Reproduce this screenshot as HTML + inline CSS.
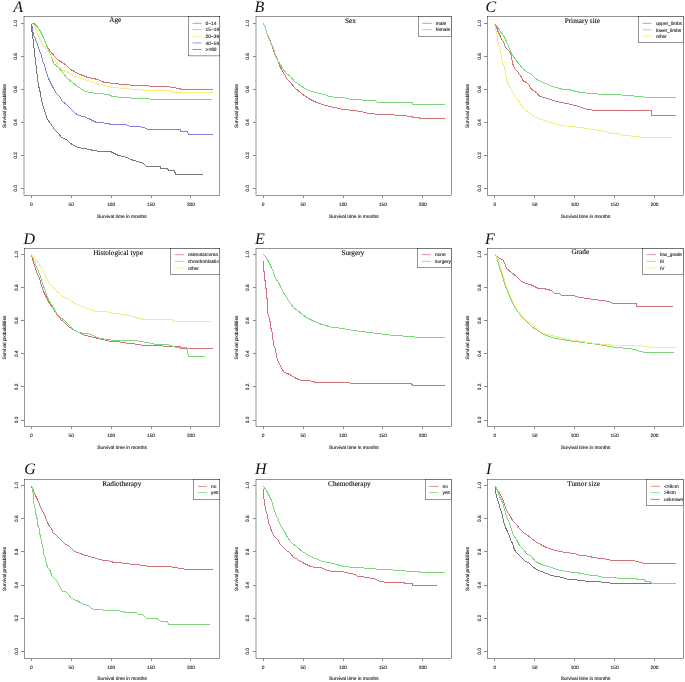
<!DOCTYPE html><html><head><meta charset="utf-8"><style>html,body{margin:0;padding:0;background:#fff;}svg{display:block;will-change:transform;text-rendering:geometricPrecision;}.s{font-family:"Liberation Sans", sans-serif;font-size:4.8px;fill:#111;stroke:#333;stroke-width:0.12px;}.t{font-family:"Liberation Serif", serif;font-size:7.25px;fill:#000;stroke:#222;stroke-width:0.1px;}.L{font-family:"Liberation Serif", serif;font-size:16px;font-style:italic;fill:#111;}</style></head><body>
<svg width="685" height="682" viewBox="0 0 685 682">
<rect width="685" height="682" fill="#fff"/>
<g><polyline points="31.5,23.5 34.5,23.5 38.5,28.5 41.5,33.5 44.5,40.5 46.5,45.5 50.5,51.5 54.5,56.5 58.5,60.5 62.5,62.5 66.5,65.5 70.5,69.5 74.5,71.5 79.5,74.5 83.5,75.5 87.5,77.5 93.5,78.5 97.5,79.5 100.5,80.5 101.5,81.5 105.5,82.5 114.5,83.5 123.5,84.5 136.5,85.5 143.5,85.5 154.5,86.5 169.5,86.5 170.5,87.5 180.5,88.5 180.5,89.5 212.5,89.5" fill="none" stroke="#d2737c" stroke-width="1" stroke-linejoin="round" shape-rendering="crispEdges"/><polyline points="31.5,23.5 35.5,25.5 39.5,29.5 43.5,37.5 46.5,45.5 49.5,52.5 52.5,59.5 53.5,63.5 58.5,67.5 62.5,72.5 67.5,78.5 72.5,82.5 77.5,86.5 77.5,86.5 83.5,90.5 83.5,90.5 89.5,92.5 91.5,92.5 96.5,93.5 98.5,93.5 100.5,93.5 107.5,94.5 108.5,94.5 112.5,96.5 123.5,97.5 138.5,98.5 149.5,98.5 150.5,99.5 211.5,99.5" fill="none" stroke="#7dd87d" stroke-width="1" stroke-linejoin="round" shape-rendering="crispEdges"/><polyline points="31.5,23.5 34.5,25.5 36.5,31.5 39.5,38.5 42.5,44.5 46.5,49.5 50.5,55.5 55.5,61.5 59.5,66.5 62.5,70.5 66.5,71.5 70.5,74.5 75.5,76.5 81.5,78.5 87.5,80.5 93.5,82.5 99.5,84.5 100.5,84.5 107.5,86.5 114.5,87.5 123.5,88.5 136.5,89.5 147.5,90.5 158.5,90.5 171.5,90.5 172.5,92.5 212.5,92.5" fill="none" stroke="#f2ee7c" stroke-width="1" stroke-linejoin="round" shape-rendering="crispEdges"/><polyline points="31.5,23.5 31.5,24.5 32.5,28.5 33.5,34.5 35.5,39.5 37.5,44.5 39.5,50.5 41.5,55.5 42.5,60.5 44.5,65.5 46.5,72.5 48.5,78.5 50.5,82.5 53.5,88.5 56.5,93.5 59.5,96.5 62.5,101.5 66.5,104.5 70.5,108.5 74.5,112.5 78.5,115.5 83.5,116.5 88.5,118.5 92.5,120.5 96.5,122.5 100.5,122.5 102.5,122.5 105.5,123.5 108.5,123.5 110.5,124.5 125.5,124.5 130.5,126.5 138.5,126.5 143.5,127.5 148.5,129.5 180.5,129.5 180.5,131.5 187.5,131.5 188.5,134.5 212.5,134.5" fill="none" stroke="#8282d4" stroke-width="1" stroke-linejoin="round" shape-rendering="crispEdges"/><polyline points="31.5,23.5 31.5,23.5 31.5,27.5 32.5,35.5 33.5,42.5 34.5,52.5 35.5,60.5 36.5,68.5 37.5,78.5 38.5,85.5 40.5,93.5 41.5,100.5 43.5,107.5 45.5,113.5 47.5,119.5 50.5,123.5 54.5,129.5 58.5,133.5 61.5,137.5 66.5,139.5 69.5,142.5 73.5,145.5 78.5,147.5 83.5,148.5 89.5,149.5 93.5,150.5 99.5,151.5 100.5,151.5 108.5,151.5 110.5,151.5 114.5,153.5 118.5,155.5 127.5,157.5 130.5,159.5 134.5,160.5 143.5,163.5 146.5,166.5 160.5,166.5 160.5,168.5 167.5,168.5 168.5,170.5 174.5,170.5 175.5,174.5 202.5,174.5" fill="none" stroke="#787878" stroke-width="1" stroke-linejoin="round" shape-rendering="crispEdges"/><rect x="24" y="16.5" width="195.8" height="179" fill="none" stroke="#000" stroke-width="0.42"/><line x1="20.8" y1="188.5" x2="24" y2="188.5" stroke="#8a8a8a" stroke-width="1" shape-rendering="crispEdges"/><text class="s" text-anchor="middle" transform="translate(15.3,188.47) rotate(-90)" dy="1.7">0.0</text><line x1="20.8" y1="155.5" x2="24" y2="155.5" stroke="#8a8a8a" stroke-width="1" shape-rendering="crispEdges"/><text class="s" text-anchor="middle" transform="translate(15.3,155.47) rotate(-90)" dy="1.7">0.2</text><line x1="20.8" y1="122.5" x2="24" y2="122.5" stroke="#8a8a8a" stroke-width="1" shape-rendering="crispEdges"/><text class="s" text-anchor="middle" transform="translate(15.3,122.46) rotate(-90)" dy="1.7">0.4</text><line x1="20.8" y1="89.5" x2="24" y2="89.5" stroke="#8a8a8a" stroke-width="1" shape-rendering="crispEdges"/><text class="s" text-anchor="middle" transform="translate(15.3,89.46) rotate(-90)" dy="1.7">0.6</text><line x1="20.8" y1="56.5" x2="24" y2="56.5" stroke="#8a8a8a" stroke-width="1" shape-rendering="crispEdges"/><text class="s" text-anchor="middle" transform="translate(15.3,56.45) rotate(-90)" dy="1.7">0.8</text><line x1="20.8" y1="23.5" x2="24" y2="23.5" stroke="#8a8a8a" stroke-width="1" shape-rendering="crispEdges"/><text class="s" text-anchor="middle" transform="translate(15.3,23.45) rotate(-90)" dy="1.7">1.0</text><line x1="31.5" y1="195.5" x2="31.5" y2="198.3" stroke="#8a8a8a" stroke-width="1" shape-rendering="crispEdges"/><text class="s" text-anchor="middle" x="31.35" y="206.3">0</text><line x1="71.5" y1="195.5" x2="71.5" y2="198.3" stroke="#8a8a8a" stroke-width="1" shape-rendering="crispEdges"/><text class="s" text-anchor="middle" x="71.25" y="206.3">50</text><line x1="111.5" y1="195.5" x2="111.5" y2="198.3" stroke="#8a8a8a" stroke-width="1" shape-rendering="crispEdges"/><text class="s" text-anchor="middle" x="111.15" y="206.3">100</text><line x1="151.5" y1="195.5" x2="151.5" y2="198.3" stroke="#8a8a8a" stroke-width="1" shape-rendering="crispEdges"/><text class="s" text-anchor="middle" x="151.05" y="206.3">150</text><line x1="190.5" y1="195.5" x2="190.5" y2="198.3" stroke="#8a8a8a" stroke-width="1" shape-rendering="crispEdges"/><text class="s" text-anchor="middle" x="190.95" y="206.3">200</text><text class="s" text-anchor="middle" x="121.9" y="217.5">Survival time in months</text><text class="s" text-anchor="middle" transform="translate(4.1,106) rotate(-90)" dy="1.7">Survival probabilities</text><text class="t" text-anchor="middle" x="115.2" y="22.2">Age</text><text class="L" x="13.3" y="11.8">A</text><rect x="188.7" y="16.5" width="31.1" height="39.4" fill="#fff" stroke="#000" stroke-width="0.42"/><line x1="192.5" y1="23.3" x2="201.5" y2="23.3" stroke="#d2737c" stroke-width="0.8"/><text class="s" x="205.6" y="25">0−14</text><line x1="192.5" y1="29.6" x2="201.5" y2="29.6" stroke="#7dd87d" stroke-width="0.8"/><text class="s" x="205.6" y="31.3">15−19</text><line x1="192.5" y1="36.4" x2="201.5" y2="36.4" stroke="#f2ee7c" stroke-width="0.8"/><text class="s" x="205.6" y="38.1">20−39</text><line x1="192.5" y1="42.9" x2="201.5" y2="42.9" stroke="#8282d4" stroke-width="0.8"/><text class="s" x="205.6" y="44.6">40−59</text><line x1="192.5" y1="49.5" x2="201.5" y2="49.5" stroke="#787878" stroke-width="0.8"/><text class="s" x="205.6" y="51.2">&gt;=60</text></g>
<g><polyline points="263.5,23.5 265.5,28.5 267.5,35.5 270.5,41.5 272.5,47.5 274.5,53.5 277.5,59.5 279.5,65.5 281.5,69.5 284.5,74.5 287.5,79.5 290.5,82.5 294.5,87.5 301.5,93.5 308.5,98.5 316.5,102.5 325.5,105.5 334.5,107.5 343.5,109.5 353.5,110.5 360.5,111.5 369.5,113.5 379.5,114.5 389.5,114.5 399.5,115.5 406.5,115.5 407.5,116.5 412.5,116.5 412.5,117.5 419.5,117.5 419.5,118.5 444.5,118.5" fill="none" stroke="#d2737c" stroke-width="1" stroke-linejoin="round" shape-rendering="crispEdges"/><polyline points="263.5,23.5 265.5,28.5 267.5,35.5 270.5,42.5 273.5,48.5 275.5,55.5 277.5,60.5 280.5,64.5 282.5,68.5 286.5,73.5 290.5,76.5 294.5,81.5 297.5,83.5 301.5,86.5 308.5,90.5 315.5,92.5 324.5,94.5 329.5,96.5 336.5,97.5 343.5,97.5 350.5,99.5 358.5,99.5 364.5,100.5 364.5,100.5 375.5,100.5 377.5,102.5 393.5,102.5 400.5,102.5 412.5,102.5 412.5,104.5 444.5,104.5" fill="none" stroke="#7dd87d" stroke-width="1" stroke-linejoin="round" shape-rendering="crispEdges"/><rect x="256" y="16.5" width="195.5" height="179" fill="none" stroke="#000" stroke-width="0.42"/><line x1="252.8" y1="188.5" x2="256" y2="188.5" stroke="#8a8a8a" stroke-width="1" shape-rendering="crispEdges"/><text class="s" text-anchor="middle" transform="translate(247.3,188.47) rotate(-90)" dy="1.7">0.0</text><line x1="252.8" y1="155.5" x2="256" y2="155.5" stroke="#8a8a8a" stroke-width="1" shape-rendering="crispEdges"/><text class="s" text-anchor="middle" transform="translate(247.3,155.47) rotate(-90)" dy="1.7">0.2</text><line x1="252.8" y1="122.5" x2="256" y2="122.5" stroke="#8a8a8a" stroke-width="1" shape-rendering="crispEdges"/><text class="s" text-anchor="middle" transform="translate(247.3,122.46) rotate(-90)" dy="1.7">0.4</text><line x1="252.8" y1="89.5" x2="256" y2="89.5" stroke="#8a8a8a" stroke-width="1" shape-rendering="crispEdges"/><text class="s" text-anchor="middle" transform="translate(247.3,89.46) rotate(-90)" dy="1.7">0.6</text><line x1="252.8" y1="56.5" x2="256" y2="56.5" stroke="#8a8a8a" stroke-width="1" shape-rendering="crispEdges"/><text class="s" text-anchor="middle" transform="translate(247.3,56.45) rotate(-90)" dy="1.7">0.8</text><line x1="252.8" y1="23.5" x2="256" y2="23.5" stroke="#8a8a8a" stroke-width="1" shape-rendering="crispEdges"/><text class="s" text-anchor="middle" transform="translate(247.3,23.45) rotate(-90)" dy="1.7">1.0</text><line x1="263.5" y1="195.5" x2="263.5" y2="198.3" stroke="#8a8a8a" stroke-width="1" shape-rendering="crispEdges"/><text class="s" text-anchor="middle" x="263.2" y="206.3">0</text><line x1="303.5" y1="195.5" x2="303.5" y2="198.3" stroke="#8a8a8a" stroke-width="1" shape-rendering="crispEdges"/><text class="s" text-anchor="middle" x="303.1" y="206.3">50</text><line x1="343.5" y1="195.5" x2="343.5" y2="198.3" stroke="#8a8a8a" stroke-width="1" shape-rendering="crispEdges"/><text class="s" text-anchor="middle" x="343" y="206.3">100</text><line x1="382.5" y1="195.5" x2="382.5" y2="198.3" stroke="#8a8a8a" stroke-width="1" shape-rendering="crispEdges"/><text class="s" text-anchor="middle" x="382.9" y="206.3">150</text><line x1="422.5" y1="195.5" x2="422.5" y2="198.3" stroke="#8a8a8a" stroke-width="1" shape-rendering="crispEdges"/><text class="s" text-anchor="middle" x="422.8" y="206.3">200</text><text class="s" text-anchor="middle" x="353.75" y="217.5">Survival time in months</text><text class="s" text-anchor="middle" transform="translate(236.1,106) rotate(-90)" dy="1.7">Survival probabilities</text><text class="t" text-anchor="middle" x="350.5" y="23">Sex</text><text class="L" x="254.5" y="11.8">B</text><rect x="418.4" y="16.5" width="33.1" height="19.8" fill="#fff" stroke="#000" stroke-width="0.42"/><line x1="422.3" y1="23.3" x2="431.7" y2="23.3" stroke="#d2737c" stroke-width="0.8"/><text class="s" x="435.8" y="25">male</text><line x1="422.3" y1="29.6" x2="431.7" y2="29.6" stroke="#7dd87d" stroke-width="0.8"/><text class="s" x="435.8" y="31.3">female</text></g>
<g><polyline points="494.5,23.5 496.5,26.5 497.5,30.5 499.5,34.5 500.5,36.5 501.5,39.5 503.5,41.5 504.5,44.5 505.5,47.5 507.5,49.5 509.5,51.5 510.5,53.5 511.5,56.5 512.5,62.5 513.5,66.5 515.5,69.5 517.5,71.5 519.5,74.5 522.5,78.5 522.5,80.5 526.5,82.5 528.5,84.5 530.5,87.5 531.5,89.5 533.5,90.5 537.5,93.5 538.5,95.5 540.5,96.5 547.5,98.5 556.5,101.5 566.5,103.5 575.5,105.5 587.5,109.5 596.5,110.5 605.5,110.5 651.5,110.5 651.5,115.5 675.5,115.5" fill="none" stroke="#d2737c" stroke-width="1" stroke-linejoin="round" shape-rendering="crispEdges"/><polyline points="494.5,23.5 497.5,26.5 499.5,30.5 503.5,35.5 506.5,41.5 508.5,46.5 510.5,51.5 512.5,55.5 515.5,59.5 519.5,64.5 522.5,68.5 526.5,71.5 531.5,74.5 534.5,77.5 538.5,80.5 545.5,83.5 552.5,86.5 559.5,88.5 563.5,89.5 568.5,89.5 580.5,92.5 603.5,94.5 605.5,94.5 612.5,94.5 631.5,95.5 636.5,96.5 643.5,96.5 644.5,97.5 675.5,97.5" fill="none" stroke="#7dd87d" stroke-width="1" stroke-linejoin="round" shape-rendering="crispEdges"/><polyline points="494.5,23.5 495.5,28.5 497.5,37.5 498.5,44.5 500.5,50.5 501.5,56.5 502.5,62.5 504.5,67.5 505.5,72.5 506.5,78.5 506.5,80.5 510.5,88.5 511.5,89.5 514.5,96.5 517.5,99.5 524.5,109.5 535.5,117.5 547.5,121.5 561.5,125.5 580.5,127.5 598.5,130.5 605.5,131.5 608.5,132.5 611.5,133.5 617.5,133.5 619.5,134.5 624.5,135.5 630.5,135.5 631.5,136.5 639.5,136.5 640.5,137.5 671.5,137.5" fill="none" stroke="#f2ee7c" stroke-width="1" stroke-linejoin="round" shape-rendering="crispEdges"/><rect x="487.5" y="16.5" width="196" height="179" fill="none" stroke="#000" stroke-width="0.42"/><line x1="484.3" y1="188.5" x2="487.5" y2="188.5" stroke="#8a8a8a" stroke-width="1" shape-rendering="crispEdges"/><text class="s" text-anchor="middle" transform="translate(478.8,188.47) rotate(-90)" dy="1.7">0.0</text><line x1="484.3" y1="155.5" x2="487.5" y2="155.5" stroke="#8a8a8a" stroke-width="1" shape-rendering="crispEdges"/><text class="s" text-anchor="middle" transform="translate(478.8,155.47) rotate(-90)" dy="1.7">0.2</text><line x1="484.3" y1="122.5" x2="487.5" y2="122.5" stroke="#8a8a8a" stroke-width="1" shape-rendering="crispEdges"/><text class="s" text-anchor="middle" transform="translate(478.8,122.46) rotate(-90)" dy="1.7">0.4</text><line x1="484.3" y1="89.5" x2="487.5" y2="89.5" stroke="#8a8a8a" stroke-width="1" shape-rendering="crispEdges"/><text class="s" text-anchor="middle" transform="translate(478.8,89.46) rotate(-90)" dy="1.7">0.6</text><line x1="484.3" y1="56.5" x2="487.5" y2="56.5" stroke="#8a8a8a" stroke-width="1" shape-rendering="crispEdges"/><text class="s" text-anchor="middle" transform="translate(478.8,56.45) rotate(-90)" dy="1.7">0.8</text><line x1="484.3" y1="23.5" x2="487.5" y2="23.5" stroke="#8a8a8a" stroke-width="1" shape-rendering="crispEdges"/><text class="s" text-anchor="middle" transform="translate(478.8,23.45) rotate(-90)" dy="1.7">1.0</text><line x1="494.5" y1="195.5" x2="494.5" y2="198.3" stroke="#8a8a8a" stroke-width="1" shape-rendering="crispEdges"/><text class="s" text-anchor="middle" x="494.9" y="206.3">0</text><line x1="534.5" y1="195.5" x2="534.5" y2="198.3" stroke="#8a8a8a" stroke-width="1" shape-rendering="crispEdges"/><text class="s" text-anchor="middle" x="534.8" y="206.3">50</text><line x1="574.5" y1="195.5" x2="574.5" y2="198.3" stroke="#8a8a8a" stroke-width="1" shape-rendering="crispEdges"/><text class="s" text-anchor="middle" x="574.7" y="206.3">100</text><line x1="614.5" y1="195.5" x2="614.5" y2="198.3" stroke="#8a8a8a" stroke-width="1" shape-rendering="crispEdges"/><text class="s" text-anchor="middle" x="614.6" y="206.3">150</text><line x1="654.5" y1="195.5" x2="654.5" y2="198.3" stroke="#8a8a8a" stroke-width="1" shape-rendering="crispEdges"/><text class="s" text-anchor="middle" x="654.5" y="206.3">200</text><text class="s" text-anchor="middle" x="585.5" y="217.5">Survival time in months</text><text class="s" text-anchor="middle" transform="translate(467.6,106) rotate(-90)" dy="1.7">Survival probabilities</text><text class="t" text-anchor="middle" x="582.3" y="23">Primary site</text><text class="L" x="485.5" y="11.8">C</text><rect x="638.7" y="16.5" width="44.8" height="25.9" fill="#fff" stroke="#000" stroke-width="0.42"/><line x1="642.6" y1="23.3" x2="651.5" y2="23.3" stroke="#d2737c" stroke-width="0.8"/><text class="s" x="655.9" y="25">upper_limbs</text><line x1="642.6" y1="29.8" x2="651.5" y2="29.8" stroke="#7dd87d" stroke-width="0.8"/><text class="s" x="655.9" y="31.5">lower_limbs</text><line x1="642.6" y1="36.3" x2="651.5" y2="36.3" stroke="#f2ee7c" stroke-width="0.8"/><text class="s" x="655.9" y="38">other</text></g>
<g><polyline points="31.5,254.5 32.5,259.5 34.5,265.5 36.5,271.5 39.5,278.5 41.5,285.5 43.5,291.5 46.5,297.5 49.5,303.5 52.5,307.5 55.5,312.5 59.5,317.5 61.5,320.5 62.5,320.5 65.5,323.5 68.5,326.5 76.5,331.5 85.5,335.5 94.5,337.5 102.5,339.5 107.5,340.5 110.5,341.5 119.5,341.5 120.5,342.5 130.5,343.5 131.5,343.5 143.5,345.5 155.5,345.5 170.5,346.5 180.5,346.5 180.5,348.5 212.5,348.5" fill="none" stroke="#d2737c" stroke-width="1" stroke-linejoin="round" shape-rendering="crispEdges"/><polyline points="31.5,254.5 33.5,259.5 35.5,264.5 38.5,271.5 40.5,276.5 42.5,283.5 45.5,291.5 47.5,297.5 49.5,301.5 53.5,307.5 56.5,313.5 60.5,317.5 64.5,320.5 64.5,320.5 68.5,324.5 73.5,329.5 78.5,332.5 85.5,333.5 91.5,334.5 94.5,336.5 100.5,338.5 106.5,339.5 114.5,340.5 115.5,340.5 130.5,340.5 136.5,340.5 139.5,341.5 148.5,342.5 155.5,344.5 167.5,344.5 176.5,347.5 186.5,347.5 188.5,356.5 204.5,356.5" fill="none" stroke="#7dd87d" stroke-width="1" stroke-linejoin="round" shape-rendering="crispEdges"/><polyline points="31.5,254.5 34.5,258.5 38.5,263.5 41.5,267.5 43.5,272.5 46.5,277.5 48.5,282.5 52.5,286.5 55.5,290.5 59.5,293.5 62.5,296.5 65.5,297.5 67.5,298.5 70.5,300.5 74.5,303.5 79.5,305.5 82.5,306.5 87.5,308.5 92.5,310.5 96.5,311.5 104.5,311.5 107.5,311.5 108.5,312.5 114.5,313.5 119.5,313.5 120.5,314.5 130.5,315.5 131.5,316.5 143.5,319.5 172.5,319.5 173.5,321.5 210.5,321.5" fill="none" stroke="#f2ee7c" stroke-width="1" stroke-linejoin="round" shape-rendering="crispEdges"/><rect x="24.5" y="248.5" width="195.3" height="178" fill="none" stroke="#000" stroke-width="0.42"/><line x1="21.3" y1="420.5" x2="24.5" y2="420.5" stroke="#8a8a8a" stroke-width="1" shape-rendering="crispEdges"/><text class="s" text-anchor="middle" transform="translate(15.8,420) rotate(-90)" dy="1.7">0.0</text><line x1="21.3" y1="386.5" x2="24.5" y2="386.5" stroke="#8a8a8a" stroke-width="1" shape-rendering="crispEdges"/><text class="s" text-anchor="middle" transform="translate(15.8,386.89) rotate(-90)" dy="1.7">0.2</text><line x1="21.3" y1="353.5" x2="24.5" y2="353.5" stroke="#8a8a8a" stroke-width="1" shape-rendering="crispEdges"/><text class="s" text-anchor="middle" transform="translate(15.8,353.79) rotate(-90)" dy="1.7">0.4</text><line x1="21.3" y1="320.5" x2="24.5" y2="320.5" stroke="#8a8a8a" stroke-width="1" shape-rendering="crispEdges"/><text class="s" text-anchor="middle" transform="translate(15.8,320.68) rotate(-90)" dy="1.7">0.6</text><line x1="21.3" y1="287.5" x2="24.5" y2="287.5" stroke="#8a8a8a" stroke-width="1" shape-rendering="crispEdges"/><text class="s" text-anchor="middle" transform="translate(15.8,287.58) rotate(-90)" dy="1.7">0.8</text><line x1="21.3" y1="254.5" x2="24.5" y2="254.5" stroke="#8a8a8a" stroke-width="1" shape-rendering="crispEdges"/><text class="s" text-anchor="middle" transform="translate(15.8,254.47) rotate(-90)" dy="1.7">1.0</text><line x1="31.5" y1="426.5" x2="31.5" y2="429.3" stroke="#8a8a8a" stroke-width="1" shape-rendering="crispEdges"/><text class="s" text-anchor="middle" x="31.35" y="437.3">0</text><line x1="71.5" y1="426.5" x2="71.5" y2="429.3" stroke="#8a8a8a" stroke-width="1" shape-rendering="crispEdges"/><text class="s" text-anchor="middle" x="71.25" y="437.3">50</text><line x1="111.5" y1="426.5" x2="111.5" y2="429.3" stroke="#8a8a8a" stroke-width="1" shape-rendering="crispEdges"/><text class="s" text-anchor="middle" x="111.15" y="437.3">100</text><line x1="151.5" y1="426.5" x2="151.5" y2="429.3" stroke="#8a8a8a" stroke-width="1" shape-rendering="crispEdges"/><text class="s" text-anchor="middle" x="151.05" y="437.3">150</text><line x1="190.5" y1="426.5" x2="190.5" y2="429.3" stroke="#8a8a8a" stroke-width="1" shape-rendering="crispEdges"/><text class="s" text-anchor="middle" x="190.95" y="437.3">200</text><text class="s" text-anchor="middle" x="122.15" y="448.5">Survival time in months</text><text class="s" text-anchor="middle" transform="translate(4.6,337.5) rotate(-90)" dy="1.7">Survival probabilities</text><text class="t" text-anchor="middle" x="118" y="254.8">Histological type</text><text class="L" x="23.4" y="243.8">D</text><rect x="170.7" y="248.5" width="49.1" height="25.9" fill="#fff" stroke="#000" stroke-width="0.42"/><line x1="175" y1="254.7" x2="183.8" y2="254.7" stroke="#d2737c" stroke-width="0.8"/><text class="s" x="187.9" y="256.4">osteosarcoma</text><line x1="175" y1="261.3" x2="183.8" y2="261.3" stroke="#7dd87d" stroke-width="0.8"/><text class="s" x="187.9" y="263">chondroblastic</text><line x1="175" y1="268.1" x2="183.8" y2="268.1" stroke="#f2ee7c" stroke-width="0.8"/><text class="s" x="187.9" y="269.8">other</text></g>
<g><polyline points="263.5,260.5 263.5,271.5 264.5,271.5 264.5,280.5 265.5,280.5 265.5,288.5 266.5,288.5 266.5,298.5 267.5,298.5 267.5,304.5 267.5,310.5 268.5,316.5 269.5,317.5 269.5,321.5 270.5,321.5 270.5,328.5 271.5,328.5 272.5,335.5 273.5,344.5 275.5,349.5 276.5,355.5 277.5,360.5 279.5,363.5 281.5,368.5 284.5,372.5 287.5,373.5 291.5,375.5 294.5,377.5 298.5,379.5 301.5,380.5 307.5,380.5 314.5,381.5 314.5,382.5 336.5,382.5 345.5,382.5 353.5,383.5 411.5,383.5 412.5,385.5 444.5,385.5" fill="none" stroke="#d2737c" stroke-width="1" stroke-linejoin="round" shape-rendering="crispEdges"/><polyline points="263.5,254.5 265.5,256.5 267.5,259.5 269.5,263.5 271.5,267.5 273.5,272.5 275.5,278.5 278.5,282.5 280.5,286.5 282.5,291.5 285.5,295.5 288.5,300.5 290.5,303.5 293.5,307.5 297.5,310.5 302.5,314.5 302.5,314.5 307.5,318.5 308.5,318.5 312.5,320.5 314.5,321.5 319.5,323.5 321.5,324.5 326.5,325.5 328.5,326.5 333.5,327.5 336.5,327.5 336.5,327.5 347.5,329.5 361.5,331.5 377.5,333.5 394.5,335.5 410.5,336.5 419.5,337.5 444.5,337.5" fill="none" stroke="#7dd87d" stroke-width="1" stroke-linejoin="round" shape-rendering="crispEdges"/><rect x="256" y="248.5" width="195.5" height="178" fill="none" stroke="#000" stroke-width="0.42"/><line x1="252.8" y1="420.5" x2="256" y2="420.5" stroke="#8a8a8a" stroke-width="1" shape-rendering="crispEdges"/><text class="s" text-anchor="middle" transform="translate(247.3,420) rotate(-90)" dy="1.7">0.0</text><line x1="252.8" y1="386.5" x2="256" y2="386.5" stroke="#8a8a8a" stroke-width="1" shape-rendering="crispEdges"/><text class="s" text-anchor="middle" transform="translate(247.3,386.89) rotate(-90)" dy="1.7">0.2</text><line x1="252.8" y1="353.5" x2="256" y2="353.5" stroke="#8a8a8a" stroke-width="1" shape-rendering="crispEdges"/><text class="s" text-anchor="middle" transform="translate(247.3,353.79) rotate(-90)" dy="1.7">0.4</text><line x1="252.8" y1="320.5" x2="256" y2="320.5" stroke="#8a8a8a" stroke-width="1" shape-rendering="crispEdges"/><text class="s" text-anchor="middle" transform="translate(247.3,320.68) rotate(-90)" dy="1.7">0.6</text><line x1="252.8" y1="287.5" x2="256" y2="287.5" stroke="#8a8a8a" stroke-width="1" shape-rendering="crispEdges"/><text class="s" text-anchor="middle" transform="translate(247.3,287.58) rotate(-90)" dy="1.7">0.8</text><line x1="252.8" y1="254.5" x2="256" y2="254.5" stroke="#8a8a8a" stroke-width="1" shape-rendering="crispEdges"/><text class="s" text-anchor="middle" transform="translate(247.3,254.47) rotate(-90)" dy="1.7">1.0</text><line x1="263.5" y1="426.5" x2="263.5" y2="429.3" stroke="#8a8a8a" stroke-width="1" shape-rendering="crispEdges"/><text class="s" text-anchor="middle" x="263.2" y="437.3">0</text><line x1="303.5" y1="426.5" x2="303.5" y2="429.3" stroke="#8a8a8a" stroke-width="1" shape-rendering="crispEdges"/><text class="s" text-anchor="middle" x="303.1" y="437.3">50</text><line x1="343.5" y1="426.5" x2="343.5" y2="429.3" stroke="#8a8a8a" stroke-width="1" shape-rendering="crispEdges"/><text class="s" text-anchor="middle" x="343" y="437.3">100</text><line x1="382.5" y1="426.5" x2="382.5" y2="429.3" stroke="#8a8a8a" stroke-width="1" shape-rendering="crispEdges"/><text class="s" text-anchor="middle" x="382.9" y="437.3">150</text><line x1="422.5" y1="426.5" x2="422.5" y2="429.3" stroke="#8a8a8a" stroke-width="1" shape-rendering="crispEdges"/><text class="s" text-anchor="middle" x="422.8" y="437.3">200</text><text class="s" text-anchor="middle" x="353.75" y="448.5">Survival time in months</text><text class="s" text-anchor="middle" transform="translate(236.1,337.5) rotate(-90)" dy="1.7">Survival probabilities</text><text class="t" text-anchor="middle" x="352.8" y="254.7">Surgery</text><text class="L" x="255" y="243.8">E</text><rect x="417.3" y="248.5" width="34.2" height="19.2" fill="#fff" stroke="#000" stroke-width="0.42"/><line x1="421.9" y1="254.6" x2="430.7" y2="254.6" stroke="#d2737c" stroke-width="0.8"/><text class="s" x="435" y="256.3">none</text><line x1="421.9" y1="261.4" x2="430.7" y2="261.4" stroke="#7dd87d" stroke-width="0.8"/><text class="s" x="435" y="263.1">surgery</text></g>
<g><polyline points="495.5,254.5 498.5,257.5 503.5,260.5 505.5,265.5 506.5,268.5 511.5,272.5 516.5,276.5 520.5,280.5 525.5,283.5 530.5,284.5 534.5,286.5 538.5,288.5 543.5,288.5 547.5,289.5 551.5,290.5 551.5,290.5 554.5,293.5 554.5,293.5 559.5,293.5 559.5,293.5 560.5,294.5 561.5,295.5 568.5,295.5 573.5,295.5 579.5,297.5 587.5,298.5 594.5,299.5 601.5,300.5 609.5,301.5 612.5,303.5 636.5,303.5 636.5,303.5 636.5,306.5 672.5,306.5" fill="none" stroke="#d2737c" stroke-width="1" stroke-linejoin="round" shape-rendering="crispEdges"/><polyline points="495.5,254.5 497.5,259.5 499.5,267.5 502.5,276.5 504.5,283.5 507.5,291.5 510.5,298.5 513.5,305.5 517.5,311.5 522.5,317.5 526.5,321.5 532.5,327.5 534.5,328.5 543.5,334.5 555.5,338.5 567.5,340.5 582.5,342.5 591.5,343.5 603.5,345.5 615.5,347.5 630.5,348.5 637.5,350.5 644.5,352.5 673.5,352.5" fill="none" stroke="#7dd87d" stroke-width="1" stroke-linejoin="round" shape-rendering="crispEdges"/><polyline points="495.5,254.5 498.5,259.5 500.5,267.5 503.5,276.5 505.5,283.5 508.5,291.5 511.5,298.5 514.5,305.5 518.5,311.5 522.5,316.5 527.5,321.5 533.5,325.5 534.5,327.5 543.5,333.5 555.5,336.5 567.5,339.5 582.5,341.5 587.5,342.5 603.5,344.5 620.5,345.5 639.5,345.5 651.5,347.5 676.5,347.5" fill="none" stroke="#f2ee7c" stroke-width="1" stroke-linejoin="round" shape-rendering="crispEdges"/><rect x="487.5" y="248.5" width="196" height="178" fill="none" stroke="#000" stroke-width="0.42"/><line x1="484.3" y1="420.5" x2="487.5" y2="420.5" stroke="#8a8a8a" stroke-width="1" shape-rendering="crispEdges"/><text class="s" text-anchor="middle" transform="translate(478.8,420) rotate(-90)" dy="1.7">0.0</text><line x1="484.3" y1="386.5" x2="487.5" y2="386.5" stroke="#8a8a8a" stroke-width="1" shape-rendering="crispEdges"/><text class="s" text-anchor="middle" transform="translate(478.8,386.89) rotate(-90)" dy="1.7">0.2</text><line x1="484.3" y1="353.5" x2="487.5" y2="353.5" stroke="#8a8a8a" stroke-width="1" shape-rendering="crispEdges"/><text class="s" text-anchor="middle" transform="translate(478.8,353.79) rotate(-90)" dy="1.7">0.4</text><line x1="484.3" y1="320.5" x2="487.5" y2="320.5" stroke="#8a8a8a" stroke-width="1" shape-rendering="crispEdges"/><text class="s" text-anchor="middle" transform="translate(478.8,320.68) rotate(-90)" dy="1.7">0.6</text><line x1="484.3" y1="287.5" x2="487.5" y2="287.5" stroke="#8a8a8a" stroke-width="1" shape-rendering="crispEdges"/><text class="s" text-anchor="middle" transform="translate(478.8,287.58) rotate(-90)" dy="1.7">0.8</text><line x1="484.3" y1="254.5" x2="487.5" y2="254.5" stroke="#8a8a8a" stroke-width="1" shape-rendering="crispEdges"/><text class="s" text-anchor="middle" transform="translate(478.8,254.47) rotate(-90)" dy="1.7">1.0</text><line x1="494.5" y1="426.5" x2="494.5" y2="429.3" stroke="#8a8a8a" stroke-width="1" shape-rendering="crispEdges"/><text class="s" text-anchor="middle" x="494.9" y="437.3">0</text><line x1="534.5" y1="426.5" x2="534.5" y2="429.3" stroke="#8a8a8a" stroke-width="1" shape-rendering="crispEdges"/><text class="s" text-anchor="middle" x="534.8" y="437.3">50</text><line x1="574.5" y1="426.5" x2="574.5" y2="429.3" stroke="#8a8a8a" stroke-width="1" shape-rendering="crispEdges"/><text class="s" text-anchor="middle" x="574.7" y="437.3">100</text><line x1="614.5" y1="426.5" x2="614.5" y2="429.3" stroke="#8a8a8a" stroke-width="1" shape-rendering="crispEdges"/><text class="s" text-anchor="middle" x="614.6" y="437.3">150</text><line x1="654.5" y1="426.5" x2="654.5" y2="429.3" stroke="#8a8a8a" stroke-width="1" shape-rendering="crispEdges"/><text class="s" text-anchor="middle" x="654.5" y="437.3">200</text><text class="s" text-anchor="middle" x="585.5" y="448.5">Survival time in months</text><text class="s" text-anchor="middle" transform="translate(467.6,337.5) rotate(-90)" dy="1.7">Survival probabilities</text><text class="t" text-anchor="middle" x="580.3" y="254.3">Grade</text><text class="L" x="485" y="243.8">F</text><rect x="642.5" y="248.5" width="41" height="25.8" fill="#fff" stroke="#000" stroke-width="0.42"/><line x1="646.8" y1="254.6" x2="655.8" y2="254.6" stroke="#d2737c" stroke-width="0.8"/><text class="s" x="659.9" y="256.3">low_grade</text><line x1="646.8" y1="261.3" x2="655.8" y2="261.3" stroke="#7dd87d" stroke-width="0.8"/><text class="s" x="659.9" y="263">III</text><line x1="646.8" y1="267.9" x2="655.8" y2="267.9" stroke="#f2ee7c" stroke-width="0.8"/><text class="s" x="659.9" y="269.6">IV</text></g>
<g><polyline points="31.5,486.5 33.5,490.5 35.5,495.5 37.5,499.5 39.5,504.5 41.5,509.5 43.5,512.5 45.5,517.5 47.5,522.5 49.5,526.5 50.5,527.5 52.5,530.5 52.5,532.5 55.5,534.5 59.5,538.5 62.5,541.5 65.5,544.5 68.5,545.5 71.5,548.5 73.5,550.5 73.5,550.5 76.5,552.5 77.5,552.5 80.5,553.5 82.5,554.5 89.5,556.5 96.5,558.5 103.5,560.5 107.5,560.5 110.5,561.5 114.5,562.5 120.5,562.5 123.5,563.5 136.5,564.5 150.5,566.5 169.5,566.5 174.5,567.5 180.5,568.5 187.5,569.5 212.5,569.5" fill="none" stroke="#d2737c" stroke-width="1" stroke-linejoin="round" shape-rendering="crispEdges"/><polyline points="32.5,486.5 32.5,490.5 33.5,495.5 33.5,500.5 34.5,506.5 35.5,509.5 35.5,512.5 36.5,516.5 37.5,520.5 37.5,523.5 38.5,527.5 39.5,528.5 39.5,532.5 39.5,532.5 40.5,536.5 41.5,541.5 42.5,546.5 43.5,549.5 43.5,554.5 45.5,557.5 45.5,560.5 46.5,563.5 47.5,567.5 49.5,569.5 50.5,571.5 50.5,571.5 51.5,575.5 52.5,576.5 57.5,581.5 59.5,586.5 62.5,591.5 65.5,591.5 68.5,594.5 71.5,598.5 76.5,600.5 80.5,602.5 83.5,604.5 88.5,605.5 91.5,608.5 94.5,609.5 100.5,609.5 100.5,609.5 105.5,610.5 105.5,610.5 114.5,610.5 115.5,610.5 123.5,611.5 125.5,612.5 136.5,612.5 138.5,614.5 142.5,614.5 144.5,616.5 146.5,618.5 156.5,618.5 158.5,619.5 160.5,621.5 167.5,621.5 168.5,624.5 209.5,624.5" fill="none" stroke="#7dd87d" stroke-width="1" stroke-linejoin="round" shape-rendering="crispEdges"/><rect x="24.5" y="479.5" width="195.3" height="178.8" fill="none" stroke="#000" stroke-width="0.42"/><line x1="21.3" y1="651.5" x2="24.5" y2="651.5" stroke="#8a8a8a" stroke-width="1" shape-rendering="crispEdges"/><text class="s" text-anchor="middle" transform="translate(15.8,651.5) rotate(-90)" dy="1.7">0.0</text><line x1="21.3" y1="618.5" x2="24.5" y2="618.5" stroke="#8a8a8a" stroke-width="1" shape-rendering="crispEdges"/><text class="s" text-anchor="middle" transform="translate(15.8,618.29) rotate(-90)" dy="1.7">0.2</text><line x1="21.3" y1="585.5" x2="24.5" y2="585.5" stroke="#8a8a8a" stroke-width="1" shape-rendering="crispEdges"/><text class="s" text-anchor="middle" transform="translate(15.8,585.09) rotate(-90)" dy="1.7">0.4</text><line x1="21.3" y1="551.5" x2="24.5" y2="551.5" stroke="#8a8a8a" stroke-width="1" shape-rendering="crispEdges"/><text class="s" text-anchor="middle" transform="translate(15.8,551.88) rotate(-90)" dy="1.7">0.6</text><line x1="21.3" y1="518.5" x2="24.5" y2="518.5" stroke="#8a8a8a" stroke-width="1" shape-rendering="crispEdges"/><text class="s" text-anchor="middle" transform="translate(15.8,518.68) rotate(-90)" dy="1.7">0.8</text><line x1="21.3" y1="485.5" x2="24.5" y2="485.5" stroke="#8a8a8a" stroke-width="1" shape-rendering="crispEdges"/><text class="s" text-anchor="middle" transform="translate(15.8,485.47) rotate(-90)" dy="1.7">1.0</text><line x1="31.5" y1="658.3" x2="31.5" y2="661.1" stroke="#8a8a8a" stroke-width="1" shape-rendering="crispEdges"/><text class="s" text-anchor="middle" x="31.35" y="669.1">0</text><line x1="71.5" y1="658.3" x2="71.5" y2="661.1" stroke="#8a8a8a" stroke-width="1" shape-rendering="crispEdges"/><text class="s" text-anchor="middle" x="71.25" y="669.1">50</text><line x1="111.5" y1="658.3" x2="111.5" y2="661.1" stroke="#8a8a8a" stroke-width="1" shape-rendering="crispEdges"/><text class="s" text-anchor="middle" x="111.15" y="669.1">100</text><line x1="151.5" y1="658.3" x2="151.5" y2="661.1" stroke="#8a8a8a" stroke-width="1" shape-rendering="crispEdges"/><text class="s" text-anchor="middle" x="151.05" y="669.1">150</text><line x1="190.5" y1="658.3" x2="190.5" y2="661.1" stroke="#8a8a8a" stroke-width="1" shape-rendering="crispEdges"/><text class="s" text-anchor="middle" x="190.95" y="669.1">200</text><text class="s" text-anchor="middle" x="122.15" y="680.3">Survival time in months</text><text class="s" text-anchor="middle" transform="translate(4.6,568.9) rotate(-90)" dy="1.7">Survival probabilities</text><text class="t" text-anchor="middle" x="121.8" y="485.8">Radiotherapy</text><text class="L" x="24.3" y="473.8">G</text><rect x="193.5" y="479.5" width="26.3" height="19.8" fill="#fff" stroke="#000" stroke-width="0.42"/><line x1="198" y1="486.4" x2="206.7" y2="486.4" stroke="#d2737c" stroke-width="0.8"/><text class="s" x="211" y="488.1">no</text><line x1="198" y1="492.5" x2="206.7" y2="492.5" stroke="#7dd87d" stroke-width="0.8"/><text class="s" x="211" y="494.2">yes</text></g>
<g><polyline points="263.5,488.5 263.5,494.5 264.5,502.5 265.5,509.5 267.5,515.5 268.5,522.5 270.5,527.5 271.5,531.5 274.5,536.5 277.5,539.5 280.5,544.5 280.5,544.5 283.5,547.5 284.5,548.5 287.5,551.5 288.5,551.5 291.5,554.5 292.5,556.5 297.5,559.5 302.5,562.5 306.5,564.5 310.5,566.5 315.5,567.5 321.5,567.5 326.5,570.5 333.5,571.5 342.5,571.5 345.5,572.5 350.5,573.5 355.5,574.5 357.5,576.5 360.5,576.5 373.5,578.5 380.5,581.5 387.5,582.5 403.5,582.5 405.5,583.5 412.5,583.5 412.5,585.5 436.5,585.5" fill="none" stroke="#d2737c" stroke-width="1" stroke-linejoin="round" shape-rendering="crispEdges"/><polyline points="263.5,486.5 266.5,490.5 268.5,494.5 271.5,500.5 273.5,507.5 275.5,513.5 278.5,520.5 280.5,525.5 284.5,531.5 287.5,537.5 290.5,541.5 292.5,543.5 296.5,546.5 297.5,547.5 302.5,551.5 308.5,555.5 315.5,558.5 322.5,561.5 329.5,562.5 336.5,564.5 344.5,566.5 352.5,567.5 360.5,567.5 366.5,568.5 384.5,569.5 401.5,570.5 410.5,571.5 419.5,571.5 419.5,572.5 444.5,572.5" fill="none" stroke="#7dd87d" stroke-width="1" stroke-linejoin="round" shape-rendering="crispEdges"/><rect x="256" y="479.5" width="195.5" height="178.8" fill="none" stroke="#000" stroke-width="0.42"/><line x1="252.8" y1="651.5" x2="256" y2="651.5" stroke="#8a8a8a" stroke-width="1" shape-rendering="crispEdges"/><text class="s" text-anchor="middle" transform="translate(247.3,651.5) rotate(-90)" dy="1.7">0.0</text><line x1="252.8" y1="618.5" x2="256" y2="618.5" stroke="#8a8a8a" stroke-width="1" shape-rendering="crispEdges"/><text class="s" text-anchor="middle" transform="translate(247.3,618.29) rotate(-90)" dy="1.7">0.2</text><line x1="252.8" y1="585.5" x2="256" y2="585.5" stroke="#8a8a8a" stroke-width="1" shape-rendering="crispEdges"/><text class="s" text-anchor="middle" transform="translate(247.3,585.09) rotate(-90)" dy="1.7">0.4</text><line x1="252.8" y1="551.5" x2="256" y2="551.5" stroke="#8a8a8a" stroke-width="1" shape-rendering="crispEdges"/><text class="s" text-anchor="middle" transform="translate(247.3,551.88) rotate(-90)" dy="1.7">0.6</text><line x1="252.8" y1="518.5" x2="256" y2="518.5" stroke="#8a8a8a" stroke-width="1" shape-rendering="crispEdges"/><text class="s" text-anchor="middle" transform="translate(247.3,518.68) rotate(-90)" dy="1.7">0.8</text><line x1="252.8" y1="485.5" x2="256" y2="485.5" stroke="#8a8a8a" stroke-width="1" shape-rendering="crispEdges"/><text class="s" text-anchor="middle" transform="translate(247.3,485.47) rotate(-90)" dy="1.7">1.0</text><line x1="263.5" y1="658.3" x2="263.5" y2="661.1" stroke="#8a8a8a" stroke-width="1" shape-rendering="crispEdges"/><text class="s" text-anchor="middle" x="263.2" y="669.1">0</text><line x1="303.5" y1="658.3" x2="303.5" y2="661.1" stroke="#8a8a8a" stroke-width="1" shape-rendering="crispEdges"/><text class="s" text-anchor="middle" x="303.1" y="669.1">50</text><line x1="343.5" y1="658.3" x2="343.5" y2="661.1" stroke="#8a8a8a" stroke-width="1" shape-rendering="crispEdges"/><text class="s" text-anchor="middle" x="343" y="669.1">100</text><line x1="382.5" y1="658.3" x2="382.5" y2="661.1" stroke="#8a8a8a" stroke-width="1" shape-rendering="crispEdges"/><text class="s" text-anchor="middle" x="382.9" y="669.1">150</text><line x1="422.5" y1="658.3" x2="422.5" y2="661.1" stroke="#8a8a8a" stroke-width="1" shape-rendering="crispEdges"/><text class="s" text-anchor="middle" x="422.8" y="669.1">200</text><text class="s" text-anchor="middle" x="353.75" y="680.3">Survival time in months</text><text class="s" text-anchor="middle" transform="translate(236.1,568.9) rotate(-90)" dy="1.7">Survival probabilities</text><text class="t" text-anchor="middle" x="349.4" y="486.1">Chemotherapy</text><text class="L" x="255" y="473.8">H</text><rect x="425.5" y="479.5" width="26" height="19.8" fill="#fff" stroke="#000" stroke-width="0.42"/><line x1="429.3" y1="486.4" x2="438.3" y2="486.4" stroke="#d2737c" stroke-width="0.8"/><text class="s" x="442.5" y="488.1">no</text><line x1="429.3" y1="492.5" x2="438.3" y2="492.5" stroke="#7dd87d" stroke-width="0.8"/><text class="s" x="442.5" y="494.2">yes</text></g>
<g><polyline points="495.5,486.5 498.5,491.5 502.5,498.5 504.5,504.5 506.5,510.5 510.5,516.5 512.5,520.5 516.5,524.5 519.5,528.5 523.5,532.5 526.5,534.5 535.5,541.5 540.5,544.5 546.5,547.5 552.5,549.5 559.5,551.5 566.5,552.5 573.5,553.5 574.5,553.5 580.5,555.5 583.5,555.5 590.5,556.5 592.5,557.5 601.5,558.5 607.5,559.5 612.5,560.5 621.5,560.5 632.5,560.5 637.5,561.5 644.5,563.5 675.5,563.5" fill="none" stroke="#d2737c" stroke-width="1" stroke-linejoin="round" shape-rendering="crispEdges"/><polyline points="495.5,486.5 497.5,490.5 499.5,496.5 502.5,502.5 504.5,509.5 506.5,516.5 509.5,523.5 511.5,529.5 513.5,535.5 516.5,539.5 519.5,545.5 521.5,547.5 523.5,549.5 526.5,553.5 531.5,556.5 535.5,561.5 541.5,564.5 548.5,566.5 554.5,568.5 560.5,570.5 566.5,571.5 573.5,572.5 576.5,572.5 580.5,573.5 587.5,574.5 590.5,575.5 596.5,575.5 603.5,577.5 612.5,577.5 621.5,578.5 636.5,578.5 636.5,579.5 644.5,579.5 645.5,581.5 650.5,581.5 651.5,583.5 675.5,583.5" fill="none" stroke="#7dd87d" stroke-width="1" stroke-linejoin="round" shape-rendering="crispEdges"/><polyline points="495.5,486.5 495.5,490.5 496.5,496.5 498.5,502.5 500.5,509.5 502.5,515.5 503.5,521.5 505.5,527.5 507.5,531.5 509.5,536.5 511.5,542.5 512.5,542.5 513.5,547.5 515.5,551.5 520.5,556.5 525.5,561.5 528.5,562.5 532.5,566.5 536.5,569.5 541.5,571.5 546.5,573.5 551.5,575.5 556.5,576.5 562.5,577.5 568.5,579.5 575.5,579.5 578.5,580.5 582.5,580.5 587.5,581.5 590.5,581.5 596.5,581.5 605.5,582.5 614.5,583.5 623.5,583.5 641.5,583.5 650.5,583.5" fill="none" stroke="#787878" stroke-width="1" stroke-linejoin="round" shape-rendering="crispEdges"/><rect x="487.5" y="479.5" width="196" height="178.8" fill="none" stroke="#000" stroke-width="0.42"/><line x1="484.3" y1="651.5" x2="487.5" y2="651.5" stroke="#8a8a8a" stroke-width="1" shape-rendering="crispEdges"/><text class="s" text-anchor="middle" transform="translate(478.8,651.5) rotate(-90)" dy="1.7">0.0</text><line x1="484.3" y1="618.5" x2="487.5" y2="618.5" stroke="#8a8a8a" stroke-width="1" shape-rendering="crispEdges"/><text class="s" text-anchor="middle" transform="translate(478.8,618.29) rotate(-90)" dy="1.7">0.2</text><line x1="484.3" y1="585.5" x2="487.5" y2="585.5" stroke="#8a8a8a" stroke-width="1" shape-rendering="crispEdges"/><text class="s" text-anchor="middle" transform="translate(478.8,585.09) rotate(-90)" dy="1.7">0.4</text><line x1="484.3" y1="551.5" x2="487.5" y2="551.5" stroke="#8a8a8a" stroke-width="1" shape-rendering="crispEdges"/><text class="s" text-anchor="middle" transform="translate(478.8,551.88) rotate(-90)" dy="1.7">0.6</text><line x1="484.3" y1="518.5" x2="487.5" y2="518.5" stroke="#8a8a8a" stroke-width="1" shape-rendering="crispEdges"/><text class="s" text-anchor="middle" transform="translate(478.8,518.68) rotate(-90)" dy="1.7">0.8</text><line x1="484.3" y1="485.5" x2="487.5" y2="485.5" stroke="#8a8a8a" stroke-width="1" shape-rendering="crispEdges"/><text class="s" text-anchor="middle" transform="translate(478.8,485.47) rotate(-90)" dy="1.7">1.0</text><line x1="494.5" y1="658.3" x2="494.5" y2="661.1" stroke="#8a8a8a" stroke-width="1" shape-rendering="crispEdges"/><text class="s" text-anchor="middle" x="494.9" y="669.1">0</text><line x1="534.5" y1="658.3" x2="534.5" y2="661.1" stroke="#8a8a8a" stroke-width="1" shape-rendering="crispEdges"/><text class="s" text-anchor="middle" x="534.8" y="669.1">50</text><line x1="574.5" y1="658.3" x2="574.5" y2="661.1" stroke="#8a8a8a" stroke-width="1" shape-rendering="crispEdges"/><text class="s" text-anchor="middle" x="574.7" y="669.1">100</text><line x1="614.5" y1="658.3" x2="614.5" y2="661.1" stroke="#8a8a8a" stroke-width="1" shape-rendering="crispEdges"/><text class="s" text-anchor="middle" x="614.6" y="669.1">150</text><line x1="654.5" y1="658.3" x2="654.5" y2="661.1" stroke="#8a8a8a" stroke-width="1" shape-rendering="crispEdges"/><text class="s" text-anchor="middle" x="654.5" y="669.1">200</text><text class="s" text-anchor="middle" x="585.5" y="680.3">Survival time in months</text><text class="s" text-anchor="middle" transform="translate(467.6,568.9) rotate(-90)" dy="1.7">Survival probabilities</text><text class="t" text-anchor="middle" x="583.6" y="486.1">Tumor size</text><text class="L" x="486" y="473.8">I</text><rect x="646.3" y="479.5" width="37.2" height="25.9" fill="#fff" stroke="#000" stroke-width="0.42"/><line x1="650.7" y1="486.3" x2="659.7" y2="486.3" stroke="#d2737c" stroke-width="0.8"/><text class="s" x="664" y="488">&lt;=8cm</text><line x1="650.7" y1="492.6" x2="659.7" y2="492.6" stroke="#7dd87d" stroke-width="0.8"/><text class="s" x="664" y="494.3">&gt;8cm</text><line x1="650.7" y1="499.4" x2="659.7" y2="499.4" stroke="#787878" stroke-width="0.8"/><text class="s" x="664" y="501.1">unknown</text></g>
</svg></body></html>
